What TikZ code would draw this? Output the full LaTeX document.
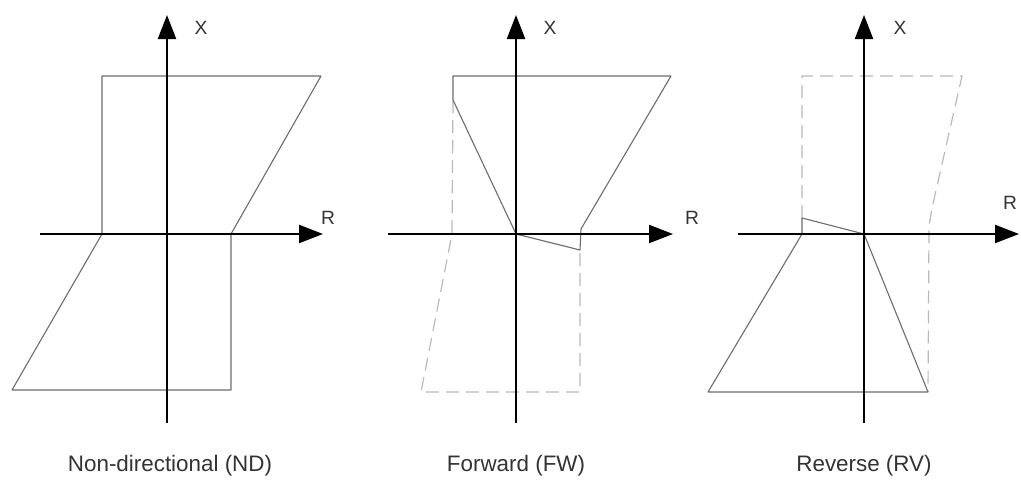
\documentclass[tikz,border=0pt]{standalone}
\usepackage{fontspec}
\setmainfont{Liberation Sans}
\usetikzlibrary{arrows.meta}
\tikzset{
  axe/.style={line width=1.1pt, -{Triangle[length=12pt,width=9pt]}},
  zone/.style={color=gray!85!black, line width=0.55pt, line join=round},
  zonedash/.style={color=gray!55, line width=0.6pt, dash pattern=on 6.5pt off 3.5pt},
  axlabel/.style={font=\fontsize{9.6}{11}\selectfont, text=black!80},
  caption/.style={font=\fontsize{11.2}{13}\selectfont, text=black!80},
}

\begin{document}
\begin{tikzpicture}[x=0.5pt,y=0.5pt]
    \useasboundingbox (0,0) rectangle (1021,484);
    % non-directional
    \draw[zone] (102,408)--(321,408)--(231,250)--(231,94)--(12,94)--(102,250)--cycle;
    \draw[axe] (40,250)--(323,250);
    \draw[axe] (167,61)--(167,469);
    \node[axlabel] (xND) at (201,456) {X};
    \node[axlabel] (rND) at (328,266) {R};
    \node[caption] (capND) at (170,18) {Non-directional (ND)};
    % forward
    \draw[zonedash] (453,384)--(452,250)--(421,92)--(580,92)--(580,234);
    \draw[zone] (453,408)--(671,408)--(581,255)--(580,234)--(516,250)--(453,384)--cycle;
    \draw[axe] (388,250)--(673,250);
    \draw[axe] (516,61)--(516,469);
    \node[axlabel] (xFW) at (550,456) {X};
    \node[axlabel] (rFW) at (692,266) {R};
    \node[caption] (capFW) at (516,18) {Forward (FW)};
    % reverse
    \draw[zonedash] (802,266)--(802,408)--(962,408)--(932,276)--(929,258)--(928,92);
    \draw[zone] (708,92)--(928,92)--(864,250)--(802,266)--(802,250)--cycle;
    \draw[axe] (738,250)--(1019,250);
    \draw[axe] (864,61)--(864,469);
    \node[axlabel] (xRV) at (900,456) {X};
    \node[axlabel] (rRV) at (1010,281) {R};
    \node[caption] (capRV) at (864,18) {Reverse (RV)};
\end{tikzpicture}
\end{document}
